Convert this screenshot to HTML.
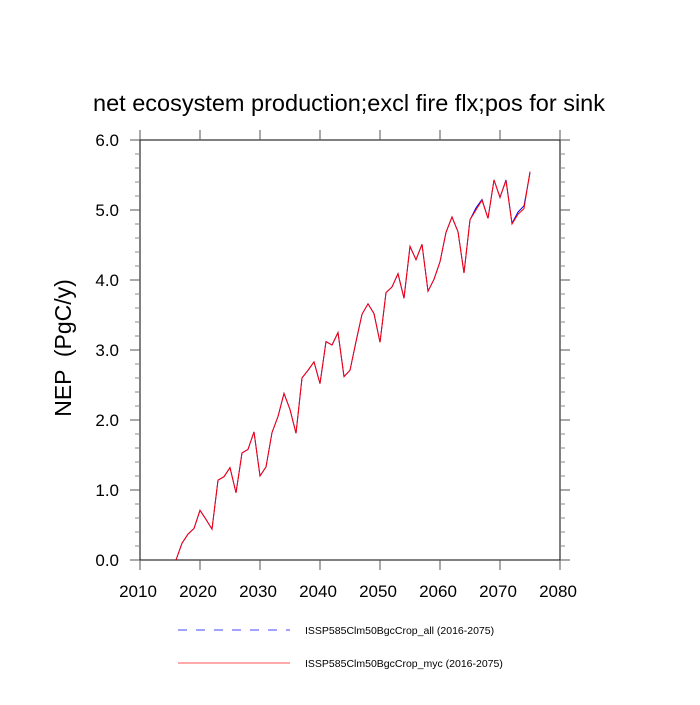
<!DOCTYPE html>
<html><head><meta charset="utf-8"><style>
body{margin:0;background:#fff;width:700px;height:700px;overflow:hidden}
svg text{font-family:"Liberation Sans",sans-serif}
</style></head><body>
<svg id="chart" width="700" height="700" xmlns="http://www.w3.org/2000/svg">
<text x="349" y="111" font-size="23.5" text-anchor="middle">net ecosystem production;excl fire flx;pos for sink</text>
<text transform="translate(71,348) rotate(-90)" font-size="23" text-anchor="middle" style="white-space:pre">NEP  (PgC/y)</text>
<g id="axes"></g>
<g id="series"></g>
<g>
<line x1="178" y1="630" x2="290" y2="630" stroke="#4444ff" stroke-width="1" stroke-dasharray="9,9"/>
<text x="305" y="634" font-size="10.5">ISSP585Clm50BgcCrop_all (2016-2075)</text>
<line x1="178" y1="663" x2="290" y2="663" stroke="#ff5555" stroke-width="1"/>
<text x="305" y="667" font-size="10.5">ISSP585Clm50BgcCrop_myc (2016-2075)</text>
</g>
</svg>
<script>
const years=[];for(let y=2016;y<=2075;y++)years.push(y);
const seriesAll=[0,0.24,0.37,0.45,0.71,0.58,0.44,1.14,1.19,1.32,0.96,1.53,1.58,1.83,1.2,1.33,1.82,2.05,2.38,2.15,1.81,2.6,2.71,2.83,2.52,3.12,3.07,3.25,2.62,2.71,3.12,3.51,3.66,3.52,3.11,3.82,3.9,4.09,3.74,4.48,4.29,4.51,3.84,4.01,4.26,4.68,4.9,4.69,4.1,4.86,5.03,5.15,4.88,5.43,5.18,5.43,4.81,4.97,5.06,5.53];
const seriesMyc=[0,0.24,0.37,0.45,0.71,0.58,0.44,1.14,1.19,1.32,0.96,1.53,1.58,1.83,1.2,1.33,1.82,2.05,2.38,2.15,1.81,2.6,2.71,2.83,2.52,3.12,3.07,3.25,2.62,2.71,3.12,3.51,3.66,3.52,3.11,3.82,3.9,4.09,3.74,4.48,4.29,4.51,3.84,4.01,4.26,4.68,4.9,4.69,4.1,4.86,5.0,5.14,4.88,5.43,5.18,5.42,4.8,4.94,5.02,5.55];
const xTicks=[2010,2020,2030,2040,2050,2060,2070,2080];
const yTicks=[0,1,2,3,4,5,6];
const yTickLabels=["0.0","1.0","2.0","3.0","4.0","5.0","6.0"];
const L=140,R=560,T=140,B=560;
const xs=v=>L+(v-2010)/70*(R-L);
const ys=v=>B-v/6*(B-T);
const NS="http://www.w3.org/2000/svg";
function mk(tag,attrs,parent){const e=document.createElementNS(NS,tag);for(const k in attrs)e.setAttribute(k,attrs[k]);parent.appendChild(e);return e;}
const ax=document.getElementById('axes');
const frame=mk('rect',{x:L,y:T,width:R-L,height:B-T,fill:'none',stroke:'#000','stroke-width':1},ax);


xTicks.forEach(v=>{const x=xs(v);
mk('line',{x1:x,y1:B,x2:x,y2:B+10,stroke:'#555'},ax);
mk('line',{x1:x,y1:T,x2:x,y2:T-10,stroke:'#555'},ax);
const t=mk('text',{x:x-2,y:B+37,'font-size':17,'text-anchor':'middle'},ax);t.textContent=v;

});
yTicks.forEach((v,i)=>{const y=ys(v);
mk('line',{x1:L,y1:y,x2:L-10,y2:y,stroke:'#555'},ax);
mk('line',{x1:R,y1:y,x2:R+10,y2:y,stroke:'#555'},ax);
const t=mk('text',{x:L-21,y:y+6,'font-size':17,'text-anchor':'end'},ax);t.textContent=yTickLabels[i];


if(i<yTicks.length-1)for(let k=1;k<5;k++){const ym=ys(v+k*0.2);
mk('line',{x1:L,y1:ym,x2:L-5,y2:ym,stroke:'#888'},ax);
mk('line',{x1:R,y1:ym,x2:R+5,y2:ym,stroke:'#888'},ax);}});
const sg=document.getElementById('series');
function line(vals,color,dash,name){const p=vals.map((v,i)=>xs(years[i]).toFixed(1)+','+ys(v).toFixed(1)).join(' ');
const e=mk('polyline',{points:p,fill:'none',stroke:color,'stroke-width':1},sg);if(dash)e.setAttribute('stroke-dasharray',dash);

}
line(seriesAll,'#0000ff',null,'line-all');
line(seriesMyc,'#ff0000',null,'line-myc');
</script>
</body></html>
